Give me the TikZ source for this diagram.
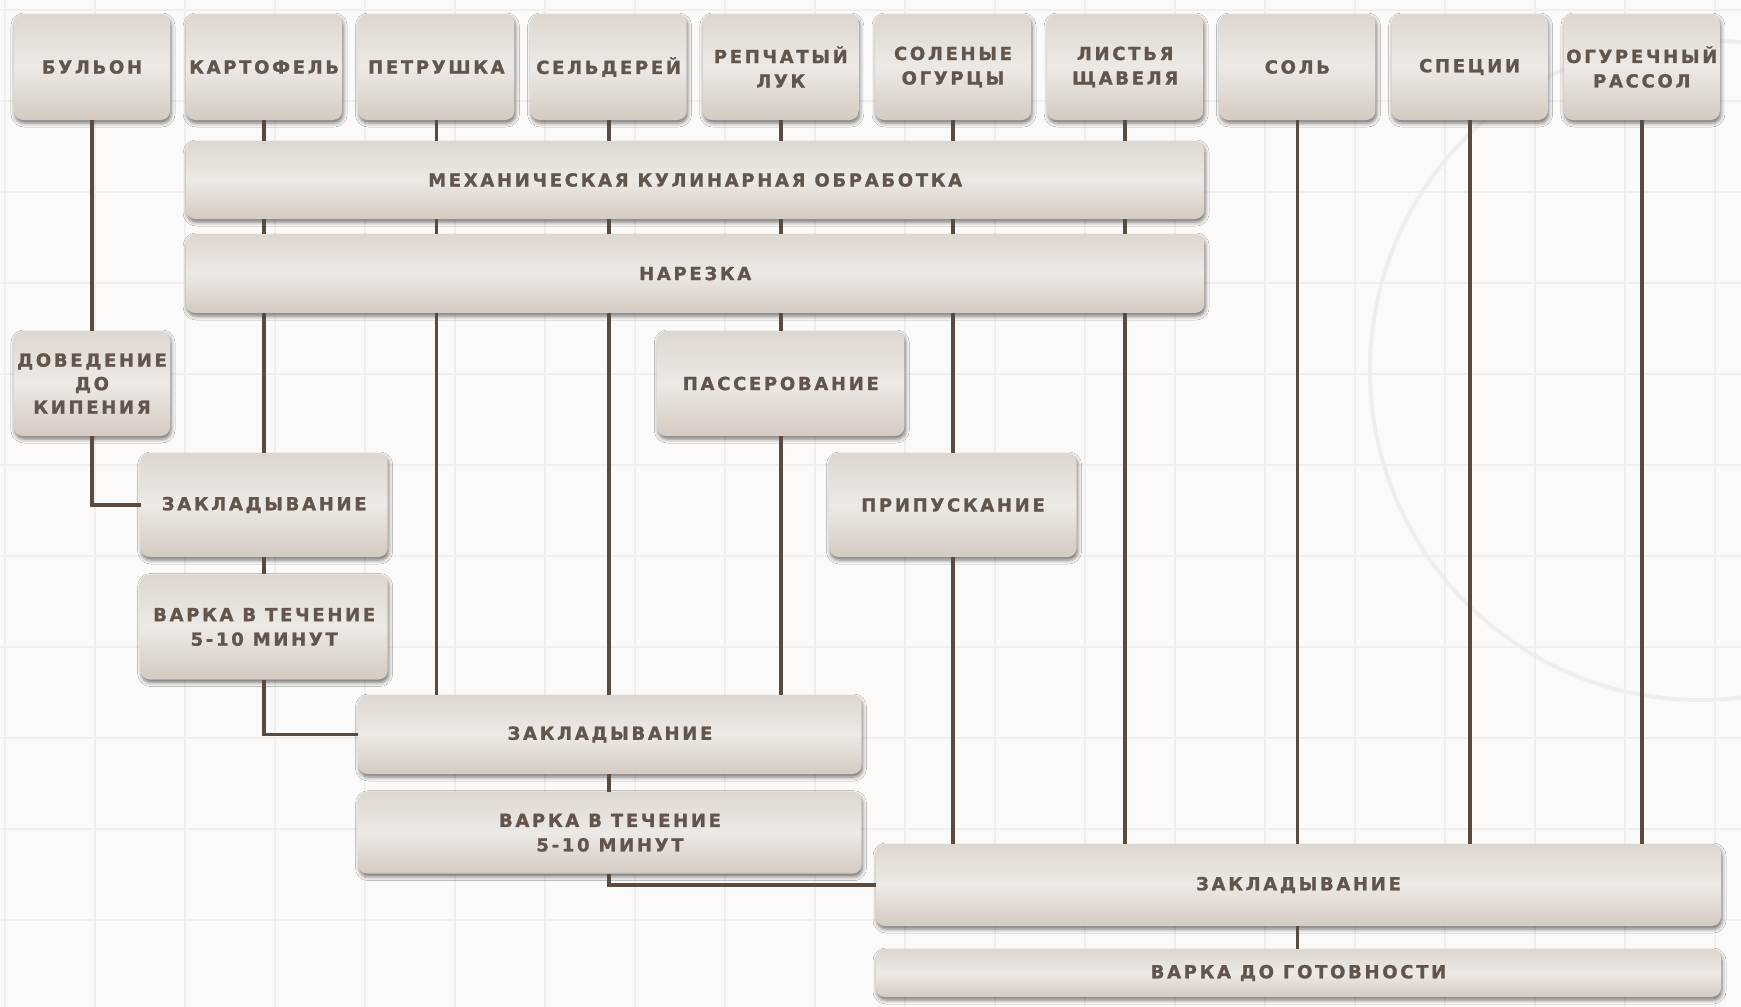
\documentclass[tikz,border=0pt]{standalone}
\usepackage{fontspec}
\setmainfont{DejaVu Sans}
\newfontfamily\labelfont[LetterSpace=15,FakeBold=1.3]{DejaVu Sans}
\usetikzlibrary{shadows.blur}

\definecolor{paper}{HTML}{FBFAF9}
\definecolor{gridc}{HTML}{F0EFED}
\definecolor{platec}{HTML}{F0EEEC}
\definecolor{boxtop}{HTML}{DED7D0}
\definecolor{boxmid}{HTML}{EDE9E5}
\definecolor{boxbot}{HTML}{D4CAC1}
\definecolor{ink}{HTML}{62554C}
\definecolor{linec}{HTML}{5A4B41}

\tikzset{
  stepbox/.style={rounded corners=9pt, draw=none,
    top color=boxtop, bottom color=boxbot, middle color=boxmid,
    blur shadow={shadow xshift=1pt, shadow yshift=-3pt,
      shadow blur radius=4pt, shadow opacity=55},
    font=\labelfont\bfseries\fontsize{18}{24.5}\selectfont,
    text=ink, align=center, inner sep=0pt},
  colbox/.style={stepbox, minimum width=156pt, minimum height=106pt},
  midbox/.style={stepbox, minimum width=247pt, minimum height=105pt},
  link/.style={draw=linec, line width=3.8pt},
  gridline/.style={draw=gridc, line width=1.1pt},
}

\begin{document}
\begin{tikzpicture}[x=1pt, y=-1pt]
  % paper background with faint grid and plate outline
  \fill[paper] (0,0) rectangle (1741,1007);
  \useasboundingbox (0,0) rectangle (1741,1007);
  \foreach \gx in {5,95,...,1745} \draw[gridline] (\gx,0) -- (\gx,1007);
  \foreach \gy in {10,101,...,1007} \draw[gridline] (0,\gy) -- (1741,\gy);
  \draw[platec, line width=4pt] (1700,370) circle (330);

  % ingredients
  \node[colbox] (bul)  at (92,67)     {БУЛЬОН};
  \node[colbox] (kart) at (264.2,67)  {КАРТОФЕЛЬ};
  \node[colbox] (petr) at (436.4,67)  {ПЕТРУШКА};
  \node[colbox] (seld) at (608.6,67)  {СЕЛЬДЕРЕЙ};
  \node[colbox] (luk)  at (780.8,67)  {РЕПЧАТЫЙ\\ЛУК};
  \node[colbox] (ogur) at (953,67)    {СОЛЕНЫЕ\\ОГУРЦЫ};
  \node[colbox] (shav) at (1125.2,67) {ЛИСТЬЯ\\ЩАВЕЛЯ};
  \node[colbox] (sol)  at (1297.4,67) {СОЛЬ};
  \node[colbox] (spec) at (1469.6,67) {СПЕЦИИ};
  \node[colbox] (rass) at (1641.8,67) {ОГУРЕЧНЫЙ\\РАССОЛ};

  % common processing
  \node[stepbox, minimum width=1018pt, minimum height=78pt] (mech) at (695.2,180)
    {МЕХАНИЧЕСКАЯ КУЛИНАРНАЯ ОБРАБОТКА};
  \node[stepbox, minimum width=1018pt, minimum height=79pt] (narez) at (695.2,273.5)
    {НАРЕЗКА};

  % intermediate steps
  \node[colbox, minimum height=105pt,
        font=\labelfont\bfseries\fontsize{18}{23.5}\selectfont] (dov) at (92,383.5)
    {ДОВЕДЕНИЕ\\ДО\\КИПЕНИЯ};
  \node[midbox] (pass) at (780.8,383.5) {ПАССЕРОВАНИЕ};
  \node[midbox, minimum height=104pt] (zak1) at (264.2,505) {ЗАКЛАДЫВАНИЕ};
  \node[midbox, minimum height=104pt] (prip) at (953,505) {ПРИПУСКАНИЕ};
  \node[midbox] (var1) at (264.2,627) {ВАРКА В ТЕЧЕНИЕ\\5-10 МИНУТ};
  \node[stepbox, minimum width=503pt, minimum height=79pt] (zak2) at (610,734.5)
    {ЗАКЛАДЫВАНИЕ};
  \node[stepbox, minimum width=503pt, minimum height=82pt] (var2) at (610,832.7)
    {ВАРКА В ТЕЧЕНИЕ\\5-10 МИНУТ};
  \node[stepbox, minimum width=845pt, minimum height=82pt] (zak3) at (1298.5,885)
    {ЗАКЛАДЫВАНИЕ};
  \node[stepbox, minimum width=845pt, minimum height=48pt] (gotov) at (1298.5,973)
    {ВАРКА ДО ГОТОВНОСТИ};

  % connectors
  \draw[link] (bul.south) -- (dov.north);
  \draw[link] (dov.south) |- (zak1.west);
  \foreach \n in {kart,petr,seld,luk,ogur,shav} {
    \draw[link] (\n.south) -- (\n.south |- mech.north);
    \draw[link] (mech.south -| \n.south) -- (narez.north -| \n.south);
  }
  \draw[link] (narez.south -| kart.south) -- (zak1.north -| kart.south);
  \draw[link] (zak1.south -| kart.south) -- (var1.north -| kart.south);
  \draw[link] (var1.south -| kart.south) |- (zak2.west);
  \draw[link] (narez.south -| petr.south) -- (zak2.north -| petr.south);
  \draw[link] (narez.south -| seld.south) -- (zak2.north -| seld.south);
  \draw[link] (narez.south -| luk.south) -- (pass.north -| luk.south);
  \draw[link] (pass.south -| luk.south) -- (zak2.north -| luk.south);
  \draw[link] (narez.south -| ogur.south) -- (prip.north -| ogur.south);
  \draw[link] (prip.south -| ogur.south) -- (zak3.north -| ogur.south);
  \draw[link] (narez.south -| shav.south) -- (zak3.north -| shav.south);
  \foreach \n in {sol,spec,rass}
    \draw[link] (\n.south) -- (zak3.north -| \n.south);
  \draw[link] (zak2.south -| seld.south) -- (var2.north -| seld.south);
  \draw[link] (var2.south -| seld.south) |- (zak3.west);
  \draw[link] (zak3.south -| sol.south) -- (gotov.north -| sol.south);
\end{tikzpicture}
\end{document}
